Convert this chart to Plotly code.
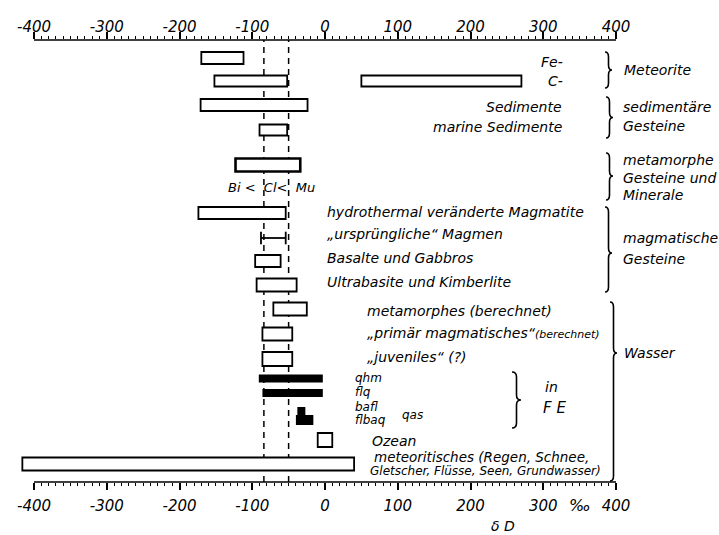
import plotly.graph_objects as go

# δD ranges (‰) of hydrogen reservoirs
ranges_names = [
    "Fe-Meteorite", "C-Meteorite", "C-Meteorite (D-reich)", "Sedimente",
    "marine Sedimente", "metamorphe Gesteine und Minerale",
    "hydrothermal veränderte Magmatite", "Basalte und Gabbros",
    "Ultrabasite und Kimberlite", "metamorphes Wasser",
    "primär magmatisches Wasser", "juveniles Wasser", "Ozean",
    "meteoritisches Wasser",
]
ranges_min = [-170, -152, 50, -171, -90, -123, -174, -96, -94, -71, -86, -86, -10, -416]
ranges_max = [-112, -52, 270, -24, -52, -34, -54, -61, -39, -25, -45, -45, 10, 40]

# fluid inclusions (FE)
fe_names = ["qhm", "flq", "bafl", "flbaq"]
fe_min = [-91, -86, -38, -40]
fe_max = [-3, -3, -27, -16]

# "ursprüngliche" Magmen
magma_min = -88
magma_max = -54

# reference band of primary magmatic water
ref_lines = [-84, -50]

# tick labels
tick_vals = [-400, -300, -200, -100, 0, 100, 200, 300, 400]
tick_text = ["-400", "-300", "-200", "-100", "0", "100", "200", "300", "400"]

# ---- layout helpers -------------------------------------------------------
W, H = 719, 535
L, R, T, B = 20, 103, 40, 53
PW, PH = W - L - R, H - T - B
X_LEFT = -400 - 14 / 0.7275


def px(x):
    return (x - L) / PW


def py(y):
    return (H - B - y) / PH


# row centres and thickness (in pixel rows of the y axis)
range_rows = [58, 81, 81, 105, 130, 165, 213, 261, 285, 309, 334, 359, 440, 464]
range_thick = [12, 11, 11, 12, 11, 13, 12, 12, 13, 13, 13, 14, 14, 13]
range_edge = [1.8, 1.8, 1.8, 1.8, 1.8, 2.6, 1.8, 1.8, 1.8, 1.8, 1.8, 1.8, 1.8, 1.8]
fe_rows = [378.5, 393, 411, 420]
fe_thick = [8, 8, 8, 10]
magma_row = 238

FONT = "DejaVu Sans"

fig = go.Figure()

fig.add_trace(go.Bar(
    orientation="h",
    y=range_rows,
    base=ranges_min,
    x=[b - a for a, b in zip(ranges_min, ranges_max)],
    width=range_thick,
    marker=dict(color="white", line=dict(color="black", width=range_edge)),
    hovertext=ranges_names,
    showlegend=False,
))

fig.add_trace(go.Bar(
    orientation="h",
    y=fe_rows,
    base=fe_min,
    x=[b - a for a, b in zip(fe_min, fe_max)],
    width=fe_thick,
    marker=dict(color="black", line=dict(color="black", width=0)),
    hovertext=fe_names,
    showlegend=False,
    xaxis="x2",
))

fig.add_trace(go.Scatter(
    x=[magma_min, magma_max],
    y=[magma_row, magma_row],
    mode="lines+markers",
    line=dict(color="black", width=1.8),
    marker=dict(symbol="line-ns-open", size=9, line=dict(color="black", width=1.8)),
    showlegend=False,
))

axis_common = dict(
    range=[X_LEFT, 400],
    tickvals=tick_vals,
    ticktext=tick_text,
    ticks="outside",
    ticklen=7,
    tickwidth=1.5,
    tickcolor="black",
    showline=False,
    showgrid=False,
    zeroline=False,
    tickfont=dict(family=FONT, size=15, color="black", style="italic"),
    minor=dict(
        tickvals=[v for v in range(-400, 401, 10) if v % 100],
        ticks="outside",
        ticklen=3,
        tickwidth=1,
        tickcolor="black",
    ),
)

fig.update_layout(
    width=W,
    height=H,
    margin=dict(l=L, r=R, t=T, b=B),
    paper_bgcolor="white",
    plot_bgcolor="white",
    barmode="overlay",
    xaxis=dict(**axis_common, side="bottom", ticklabelstandoff=3),
    xaxis2=dict(**axis_common, side="top", overlaying="x", anchor="y", ticklabelstandoff=-6),
    yaxis=dict(range=[H - B, T], visible=False),
)

shapes = []
# axis baselines from -400 to 400
for yy in (0, 1):
    shapes.append(dict(type="line", xref="x", yref="paper", x0=-400, x1=400,
                       y0=yy, y1=yy, line=dict(color="black", width=1.6)))
# dashed reference lines
for v in ref_lines:
    shapes.append(dict(type="line", xref="x", yref="paper", x0=v, x1=v, y0=0, y1=1,
                       layer="below", line=dict(color="black", width=1.5, dash="6px,5px")))


def brace(x, y0, y1, ym=None, w=7):
    if ym is None:
        ym = (y0 + y1) / 2
    xm = x + w / 2
    xt = x + w
    r = 5
    p = (
        f"M {px(x)},{py(y0)} Q {px(xm)},{py(y0)} {px(xm)},{py(y0 + r)} "
        f"L {px(xm)},{py(ym - r)} Q {px(xm)},{py(ym)} {px(xt)},{py(ym)} "
        f"Q {px(xm)},{py(ym)} {px(xm)},{py(ym + r)} "
        f"L {px(xm)},{py(y1 - r)} Q {px(xm)},{py(y1)} {px(x)},{py(y1)}"
    )
    return dict(type="path", xref="paper", yref="paper", path=p,
                line=dict(color="black", width=1.6))


shapes += [
    brace(605, 52, 88),
    brace(606, 97, 138),
    brace(606, 153, 200, 176),
    brace(605, 207, 292, 253),
    brace(610, 302, 481, 353),
    brace(512, 372, 428, 400, w=9),
]
fig.update_layout(shapes=shapes)


def label(text, x, y, anchor="left", size=14):
    return dict(text=text, x=px(x), y=py(y), xref="paper", yref="paper",
                xanchor=anchor, yanchor="middle", showarrow=False,
                font=dict(family=FONT, size=size, color="black", style="italic"))


annotations = [
    label("Fe-", 565, 62, "right"),
    label("C-", 565, 81, "right"),
    label("Sedimente", 564, 107, "right"),
    label("marine Sedimente", 564, 127, "right"),
    label("Meteorite", 622, 70),
    label("sedimentäre", 621, 107),
    label("Gesteine", 621, 126),
    label("metamorphe", 621, 160),
    label("Gesteine und", 621, 178),
    label("Minerale", 621, 195),
    label("magmatische", 621, 238),
    label("Gesteine", 621, 259),
    label("Wasser", 622, 353),
    label("Bi &lt;  Cl&lt;  Mu", 271, 187, "center", 13),
    label("hydrothermal veränderte Magmatite", 325, 212),
    label("„ursprüngliche“ Magmen", 325, 234),
    label("Basalte und Gabbros", 325, 258),
    label("Ultrabasite und Kimberlite", 325, 282),
    label("metamorphes (berechnet)", 365, 311),
    label("„primär magmatisches“<span style='font-size:11px'>(berechnet)</span>", 365, 333),
    label("„juveniles“ (?)", 365, 357),
    label("qhm", 353, 378, size=12),
    label("flq", 353, 392, size=12),
    label("bafl", 353, 407, size=12),
    label("flbaq", 353, 420, size=12),
    label("qas", 400, 415, size=12),
    label("in", 543, 387),
    label("F E", 541, 408, size=15),
    label("Ozean", 370, 441),
    label("meteoritisches (Regen, Schnee,", 372, 457, size=13.5),
    label("Gletscher, Flüsse, Seen, Grundwasser)", 368, 471, size=12),
    label("‰", 580, 505, "center", 16),
    label("δ D", 503, 526, "center", 14),
]
fig.update_layout(annotations=annotations)

fig.write_html("out.html")
